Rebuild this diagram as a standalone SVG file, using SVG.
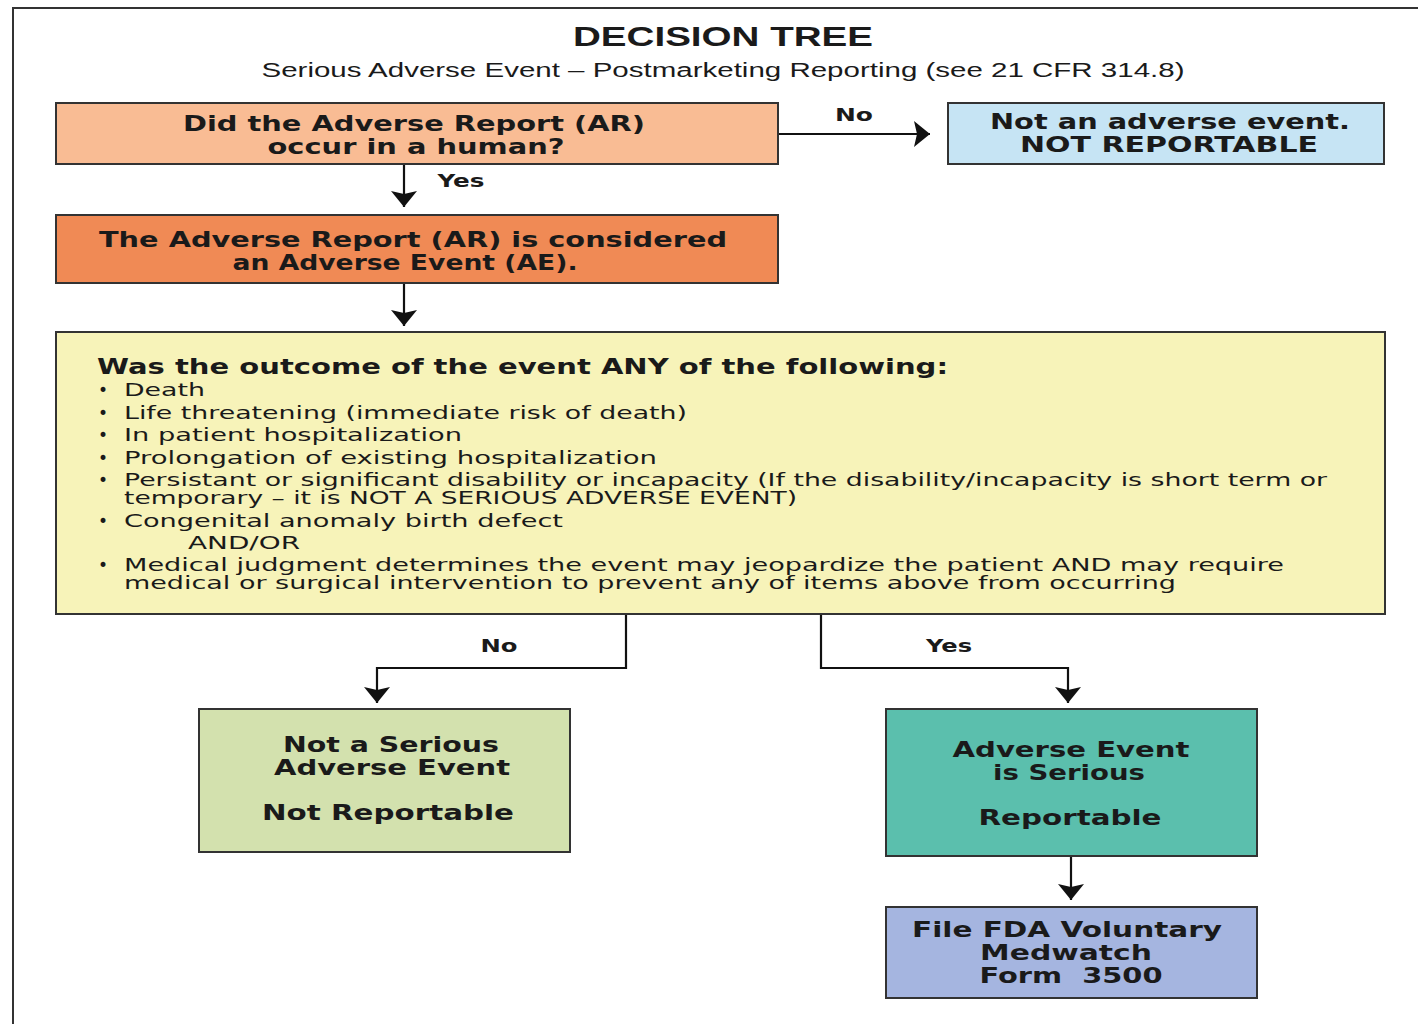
<svg xmlns="http://www.w3.org/2000/svg" width="1418" height="1024" viewBox="0 0 1418 1024">
<defs>
<marker id="arr" markerUnits="userSpaceOnUse" viewBox="0 0 16 26" refX="16" refY="13" markerWidth="16" markerHeight="26" orient="auto">
<path d="M0,0 L16,13 L0,26 L3,13 z" fill="#111"/>
</marker>
<style>
.box{stroke:#333;stroke-width:2}
.b{font-family:"DejaVu Sans","Liberation Sans",sans-serif;font-weight:bold;font-size:22px;fill:#1a1a1a}
.r{font-family:"DejaVu Sans","Liberation Sans",sans-serif;font-size:17px;fill:#1a1a1a}
.lbl{font-family:"DejaVu Sans","Liberation Sans",sans-serif;font-size:17px;fill:#1a1a1a;font-weight:bold}
.c{text-anchor:middle}
.conn{fill:none;stroke:#111;stroke-width:2.2}
</style>
</defs>
<rect x="0" y="0" width="1418" height="1024" fill="#fff"/>
<rect x="13" y="8" width="1500" height="1100" fill="none" stroke="#333" stroke-width="2"/>
<g id="title">
<text x="723" y="46" class="c" font-family="'Liberation Sans',sans-serif" font-weight="bold" font-size="27" fill="#1a1a1a" textLength="300" lengthAdjust="spacingAndGlyphs">DECISION TREE</text>
<text x="723" y="77" class="c" font-family="'Liberation Sans',sans-serif" font-size="20" fill="#1a1a1a" textLength="923" lengthAdjust="spacingAndGlyphs">Serious Adverse Event – Postmarketing Reporting (see 21 CFR 314.8)</text>
</g>
<g id="connectors">
<path class="conn" d="M778,134 H930" marker-end="url(#arr)"/>
<path class="conn" d="M404,164 V207" marker-end="url(#arr)"/>
<path class="conn" d="M404,283 V326" marker-end="url(#arr)"/>
<path class="conn" d="M626,614 V668 H377 V703" marker-end="url(#arr)"/>
<path class="conn" d="M821,614 V668 H1068 V703" marker-end="url(#arr)"/>
<path class="conn" d="M1071,856 V900" marker-end="url(#arr)"/>
<text x="854" y="121" class="lbl c" textLength="38" lengthAdjust="spacingAndGlyphs">No</text>
<text x="461" y="187" class="lbl c" textLength="47" lengthAdjust="spacingAndGlyphs">Yes</text>
<text x="499" y="652" class="lbl c" textLength="37" lengthAdjust="spacingAndGlyphs">No</text>
<text x="949" y="652" class="lbl c" textLength="46" lengthAdjust="spacingAndGlyphs">Yes</text>
</g>
<g id="q-human">
<rect class="box" x="56" y="103" width="722" height="61" fill="#f9bc94"/>
<text x="414" y="131" class="b c" textLength="462" lengthAdjust="spacingAndGlyphs">Did the Adverse Report (AR)</text>
<text x="416" y="154" class="b c" textLength="297" lengthAdjust="spacingAndGlyphs">occur in a human?</text>
</g>
<g id="not-ae">
<rect class="box" x="948" y="103" width="436" height="61" fill="#c6e4f4"/>
<text x="1170" y="129" class="b c" textLength="360" lengthAdjust="spacingAndGlyphs">Not an adverse event.</text>
<text x="1169" y="152" class="b c" textLength="298" lengthAdjust="spacingAndGlyphs">NOT REPORTABLE</text>
</g>
<g id="is-ae">
<rect class="box" x="56" y="215" width="722" height="68" fill="#f08a55"/>
<text x="413" y="247" class="b c" textLength="628" lengthAdjust="spacingAndGlyphs">The Adverse Report (AR) is considered</text>
<text x="405" y="270" class="b c" textLength="345" lengthAdjust="spacingAndGlyphs">an Adverse Event (AE).</text>
</g>
<g id="q-outcome">
<rect class="box" x="56" y="332" width="1329" height="282" fill="#f7f3b9"/>
<text x="97" y="374" class="b" textLength="851" lengthAdjust="spacingAndGlyphs">Was the outcome of the event ANY of the following:</text>
<g class="r">
<text x="98" y="396">•</text><text x="124" y="396" textLength="81" lengthAdjust="spacingAndGlyphs">Death</text>
<text x="98" y="419">•</text><text x="124" y="419" textLength="563" lengthAdjust="spacingAndGlyphs">Life threatening (immediate risk of death)</text>
<text x="98" y="441">•</text><text x="124" y="441" textLength="338" lengthAdjust="spacingAndGlyphs">In patient hospitalization</text>
<text x="98" y="464">•</text><text x="124" y="464" textLength="533" lengthAdjust="spacingAndGlyphs">Prolongation of existing hospitalization</text>
<text x="98" y="486">•</text><text x="124" y="486" textLength="1203" lengthAdjust="spacingAndGlyphs">Persistant or significant disability or incapacity (If the disability/incapacity is short term or</text>
<text x="124" y="504" textLength="673" lengthAdjust="spacingAndGlyphs">temporary – it is NOT A SERIOUS ADVERSE EVENT)</text>
<text x="98" y="527">•</text><text x="124" y="527" textLength="439" lengthAdjust="spacingAndGlyphs">Congenital anomaly birth defect</text>
<text x="188" y="549" textLength="112" lengthAdjust="spacingAndGlyphs">AND/OR</text>
<text x="98" y="571">•</text><text x="124" y="571" textLength="1160" lengthAdjust="spacingAndGlyphs">Medical judgment determines the event may jeopardize the patient AND may require</text>
<text x="124" y="589" textLength="1052" lengthAdjust="spacingAndGlyphs">medical or surgical intervention to prevent any of items above from occurring</text>
</g>
</g>
<g id="not-serious">
<rect class="box" x="199" y="709" width="371" height="143" fill="#d3e1ae"/>
<text x="391" y="752" class="b c" textLength="216" lengthAdjust="spacingAndGlyphs">Not a Serious</text>
<text x="392" y="775" class="b c" textLength="236" lengthAdjust="spacingAndGlyphs">Adverse Event</text>
<text x="388" y="820" class="b c" textLength="252" lengthAdjust="spacingAndGlyphs">Not Reportable</text>
</g>
<g id="serious">
<rect class="box" x="886" y="709" width="371" height="147" fill="#5bbfad"/>
<text x="1071" y="757" class="b c" textLength="237" lengthAdjust="spacingAndGlyphs">Adverse Event</text>
<text x="1069" y="780" class="b c" textLength="152" lengthAdjust="spacingAndGlyphs">is Serious</text>
<text x="1070" y="825" class="b c" textLength="183" lengthAdjust="spacingAndGlyphs">Reportable</text>
</g>
<g id="medwatch">
<rect class="box" x="886" y="907" width="371" height="91" fill="#a5b5e0"/>
<text x="1067" y="937" class="b c" textLength="310" lengthAdjust="spacingAndGlyphs">File FDA Voluntary</text>
<text x="1066" y="960" class="b c" textLength="172" lengthAdjust="spacingAndGlyphs">Medwatch</text>
<text x="1071" y="983" class="b c" textLength="183" lengthAdjust="spacingAndGlyphs" style="white-space:pre">Form  3500</text>
</g>
</svg>
